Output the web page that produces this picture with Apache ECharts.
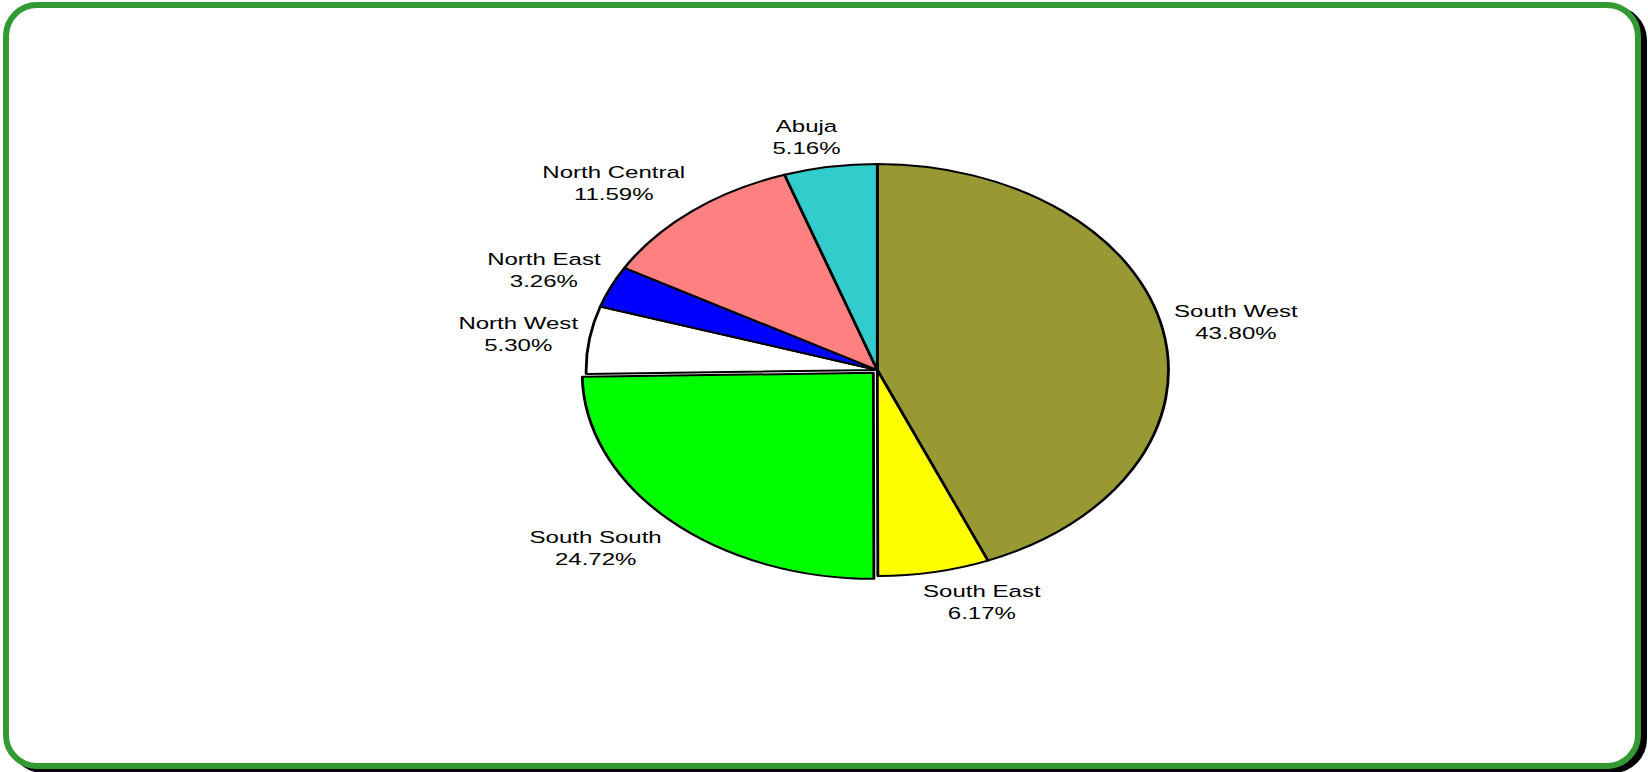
<!DOCTYPE html>
<html>
<head>
<meta charset="utf-8">
<script src="https://cdn.jsdelivr.net/npm/echarts@6/dist/echarts.min.js"></script>
<style>
html, body { margin: 0; padding: 0; width: 1648px; height: 772px; overflow: hidden; background: #ffffff; }
#frame { position: absolute; left: 3px; top: 2px; width: 1638px; height: 767px; box-sizing: border-box;
  border: 6px solid #339933; border-radius: 34px; box-shadow: 6px 4px 0 #000000; background: #ffffff; }
#chart { position: absolute; left: 0; top: 0; width: 1166px; height: 772px;
  transform: scaleX(1.4134); transform-origin: 0 0; }
</style>
</head>
<body>
<div id="frame"></div>
<div id="chart"></div>
<script>
// ---- data ----
const categories = ['South West', 'South East', 'South South', 'North West', 'North East', 'North Central', 'Abuja'];
const shares = [43.80, 6.17, 24.72, 5.30, 3.26, 11.59, 5.16];
const sliceColors = ['#999933', '#FFFF00', '#00FF00', '#FFFFFF', '#0000FF', '#FF8080', '#33CCCC'];
const explodedCategory = 'South South';

// ---- layout (unstretched space; the whole chart is stretched horizontally like the original) ----
const CX = 620.7, CY = 370, R = 206, EXPLODE = 4, GAP = 8;
const total = shares.reduce((a, b) => a + b, 0);
const explodedIndex = categories.indexOf(explodedCategory);

function midDir(i) {
  let cum = 0;
  for (let k = 0; k < i; k++) cum += shares[k];
  const a = 2 * Math.PI * (cum + shares[i] / 2) / total;
  return [Math.sin(a), -Math.cos(a)];
}
const clamp = v => Math.max(-1, Math.min(1, v));
const exDir = midDir(explodedIndex);
const centers = [[CX, CY], [CX + EXPLODE * exDir[0], CY + EXPLODE * exDir[1]]];

function makeData(visibleTest) {
  return categories.map((name, i) => {
    const vis = visibleTest(i);
    return {
      name: name,
      value: shares[i],
      itemStyle: vis
        ? { color: sliceColors[i], borderColor: '#000000', borderWidth: 2 }
        : { color: 'rgba(0,0,0,0)', borderWidth: 0 },
      label: { show: vis }
    };
  });
}

function layoutLabel(p) {
  const i = p.dataIndex;
  const c = centers[p.seriesIndex];
  const d = midDir(i);
  const w = p.labelRect.width, h = p.labelRect.height;
  const px = c[0] + R * d[0];
  const py = c[1] + R * d[1];
  return {
    x: px + (w / 2) * clamp(4 * d[0]) + GAP * d[0],
    y: py + (h / 2) * clamp(1.5 * d[1]) + GAP * d[1],
    align: 'center',
    verticalAlign: 'middle'
  };
}

const labelStyle = {
  position: 'outside',
  color: '#000000',
  fontFamily: 'Liberation Sans, Arial, sans-serif',
  fontSize: 17,
  lineHeight: 22,
  align: 'center',
  formatter: p => p.name + '\n' + p.value.toFixed(2) + '%'
};

function pieSeries(idx, visibleTest) {
  return {
    type: 'pie',
    center: centers[idx],
    radius: [0, R],
    startAngle: 90,
    clockwise: true,
    avoidLabelOverlap: false,
    data: makeData(visibleTest),
    label: labelStyle,
    labelLine: { show: false },
    emphasis: { disabled: true },
    labelLayout: layoutLabel
  };
}

const chart = echarts.init(document.getElementById('chart'), null, { renderer: 'svg' });
chart.setOption({
  animation: false,
  backgroundColor: 'transparent',
  series: [
    pieSeries(0, i => i !== explodedIndex),
    pieSeries(1, i => i === explodedIndex)
  ]
});
</script>
</body>
</html>
